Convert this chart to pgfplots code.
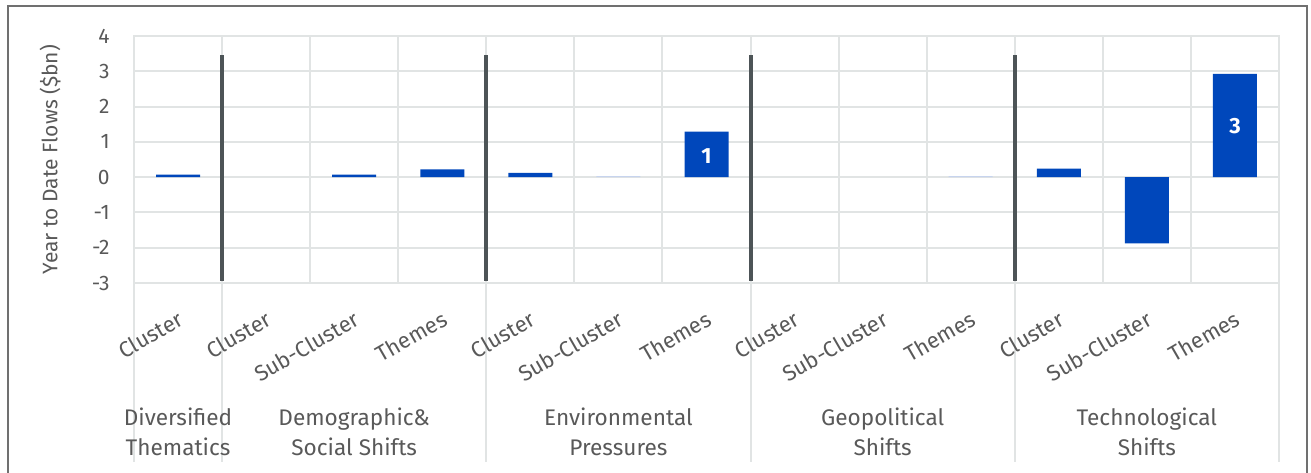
\documentclass[border=0pt]{standalone}
\usepackage{pgfplots}
\pgfplotsset{compat=1.18}
\usepackage{fontspec}
\setmainfont{Fira Sans}
\definecolor{barblue}{HTML}{0047BB}
\definecolor{lightblue}{HTML}{C7D4EE}
\definecolor{gridcol}{HTML}{E1E4E4}
\definecolor{sepcol}{HTML}{4D5457}
\definecolor{txt}{HTML}{595959}
\definecolor{framecol}{HTML}{707070}
\begin{document}
\begin{tikzpicture}
% group boundaries below the plot area (drawn first, behind the labels)
\foreach \X in {0,44.04,176.15,308.27,440.38,572.5}{
  \draw[gridcol, line width=1pt] (\X pt,0pt) -- (\X pt,-89.5pt);
}
\begin{axis}[
  scale only axis,
  width=572.5pt, height=123.5pt,
  xmin=-0.5, xmax=12.5, ymin=-3, ymax=4,
  clip=false,
  font=\fontsize{10.5}{12}\selectfont,
  axis line style={draw=gridcol, line width=1pt},
  major tick length=0pt, minor tick length=0pt,
  ytick={-3,-2,-1,0,1,2,3,4},
  yticklabels={-3,-2,-1,0,1,2,3,4},
  yticklabel style={anchor=east, inner sep=0pt, xshift=-12pt, text=txt},
  ymajorgrids, grid style={gridcol, line width=1pt},
  xtick={0,...,12},
  xticklabels={Cluster,Cluster,Sub-Cluster,Themes,Cluster,Sub-Cluster,Themes,Cluster,Sub-Cluster,Themes,Cluster,Sub-Cluster,Themes},
  xticklabel style={yshift=-17pt, xshift=1.5pt, rotate=30, anchor=east, inner sep=0pt, text=txt, font=\fontsize{11}{12}\selectfont},
  minor xtick={-0.5,0.5,...,12.5},
  xminorgrids, minor grid style={gridcol, line width=1pt},
  ylabel={Year to Date Flows (\$bn)},
  ylabel style={at={(axis description cs:-0.0733,0.5)}, anchor=center, text=txt},
]
% bars
\addplot[ybar, bar width=22pt, bar shift=0pt, fill=barblue, draw=none]
  coordinates {(0,0.07) (2,0.07) (3,0.22) (4,0.12) (6,1.29) (10,0.24) (11,-1.88) (12,2.93)};
\addplot[ybar, bar width=22pt, bar shift=0pt, fill=lightblue, draw=none]
  coordinates {(5,0.03) (9,0.03)};
% separators
\addplot[sepcol, line width=2pt] coordinates {(0.5,-2.94) (0.5,3.45)};
\addplot[sepcol, line width=2pt] coordinates {(3.5,-2.94) (3.5,3.45)};
\addplot[sepcol, line width=2pt] coordinates {(6.5,-2.94) (6.5,3.45)};
\addplot[sepcol, line width=2pt] coordinates {(9.5,-2.94) (9.5,3.45)};
% data labels
\addplot[draw=none, mark=none, nodes near coords, point meta=explicit symbolic,
  nodes near coords style={anchor=center, text=white, font=\fontsize{11}{12}\selectfont\bfseries}]
  coordinates {(6,0.6)[1] (12,1.45)[3]};
% group labels
\foreach \xx/\lab in {0/{Diversified\\Thematics},2/{Demographic\&\\Social Shifts},5/{Environmental\\Pressures},8/{Geopolitical\\Shifts},11/{Technological\\Shifts}}{
  \edef\tmp{\noexpand\node[align=center, text=txt, anchor=center, font=\noexpand\fontsize{11.3}{15}\noexpand\selectfont] at (axis cs:\xx,-3) [yshift=-74.5pt] {\unexpanded\expandafter{\lab}};}\tmp
}
\end{axis}
\draw[framecol, line width=0.8pt] (-63pt,-100pt) -- (-63pt,138.5pt) -- (586.5pt,138.5pt) -- (586.5pt,-100pt);
\pgfresetboundingbox
\useasboundingbox (-67pt,-94.5pt) rectangle (588.5pt,141.5pt);
\end{tikzpicture}
\end{document}
